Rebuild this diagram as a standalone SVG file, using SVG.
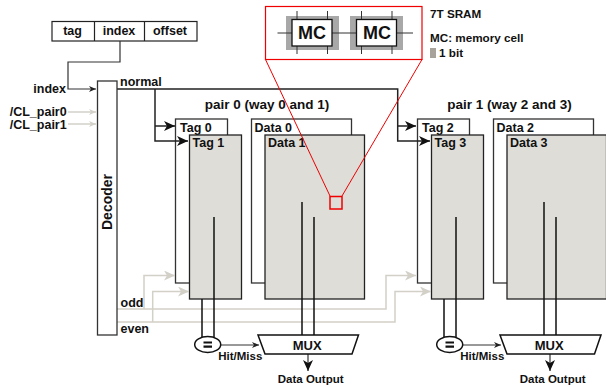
<svg xmlns="http://www.w3.org/2000/svg" width="606" height="387" viewBox="0 0 606 387">
<style>
text{font-family:"Liberation Sans",Arial,sans-serif;font-weight:700;fill:#111}
.t12{font-size:12.5px}.t13{font-size:13px}.t135{font-size:13.5px}.t14{font-size:14px}.t116{font-size:11.7px}.hm{font-size:11.500px}.do{font-size:11.500px}
.mid{text-anchor:middle}.end{text-anchor:end}
.wb{fill:#fff;stroke:#333;stroke-width:1.3}
.gb{fill:#deddd8;stroke:#222;stroke-width:1.3}
.k{fill:none;stroke:#222;stroke-width:1.5}
.k2{fill:none;stroke:#111;stroke-width:1.5}
.g{fill:none;stroke:#d3d0c8;stroke-width:1.5}
.thin{fill:none;stroke:#333;stroke-width:1}
.r{fill:none;stroke:#f00000;stroke-width:1}
</style>
<defs>
<marker id="ak" markerUnits="userSpaceOnUse" markerWidth="12" markerHeight="10" refX="11" refY="5" orient="auto"><path d="M0 0L11 5L0 10L3 5Z" fill="#111"/></marker>
<marker id="as" markerUnits="userSpaceOnUse" markerWidth="8" markerHeight="7" refX="7" refY="3.5" orient="auto"><path d="M0 0.5L7 3.5L0 6.5L2 3.5Z" fill="#222"/></marker>
<marker id="ag" markerUnits="userSpaceOnUse" markerWidth="12" markerHeight="10" refX="11" refY="5" orient="auto"><path d="M0 0L11 5L0 10L3 5Z" fill="#d3d0c8"/></marker>
<marker id="ags" markerUnits="userSpaceOnUse" markerWidth="8" markerHeight="7" refX="7" refY="3.5" orient="auto"><path d="M0 0.5L7 3.5L0 6.5L2 3.5Z" fill="#d3d0c8"/></marker>
</defs>

<g id="address">
<rect x="52" y="21.5" width="145" height="19.5" fill="#fff" stroke="#222" stroke-width="1.2"/>
<path d="M94.5 21.5V41M144.5 21.5V41" stroke="#222" stroke-width="1.2"/>
<text class="t12 mid" x="72.500" y="35">tag</text>
<text class="t12 mid" x="119" y="35">index</text>
<text class="t12 mid" x="170" y="35">offset</text>
</g>

<g id="tag0"><rect class="wb" x="175.5" y="119" width="52" height="164"/><text class="t12" x="180" y="131.500">Tag 0</text></g>
<g id="data0"><rect class="wb" x="251.5" y="119" width="100" height="164"/><text class="t12" x="254.500" y="131.500">Data 0</text></g>
<g id="tag2"><rect class="wb" x="417.5" y="119" width="52" height="164"/><text class="t12" x="422" y="131.500">Tag 2</text></g>
<g id="data2"><rect class="wb" x="493.5" y="119" width="100" height="164"/><text class="t12" x="496.500" y="131.500">Data 2</text></g>
<g id="tag1"><rect class="gb" x="189.5" y="135" width="52" height="164"/><text class="t12" x="192.500" y="146.500">Tag 1</text></g>
<g id="data1"><rect class="gb" x="265" y="135" width="99.5" height="164"/><text class="t12" x="268" y="146.500">Data 1</text></g>
<g id="tag3"><rect class="gb" x="431.5" y="135" width="52" height="164"/><text class="t12" x="434.500" y="146.500">Tag 3</text></g>
<g id="data3"><rect class="gb" x="507" y="135" width="99.5" height="164"/><text class="t12" x="510" y="146.500">Data 3</text></g>

<g id="connectors">
<path class="g" d="M117 309H386V275.5H416" marker-end="url(#ag)"/>
<path class="g" d="M144 309V275.5H175" marker-end="url(#ag)"/>
<path class="g" d="M117 322H395V291.5H431" marker-end="url(#ag)"/>
<path class="g" d="M152.700 322V291.500H189" marker-end="url(#ag)"/>
<path class="g" d="M68 112H96" marker-end="url(#ags)"/>
<path class="g" d="M68 124H96" marker-end="url(#ags)"/>
<path class="thin" style="stroke-width:1.2" d="M120 41V62H68V89H96" marker-end="url(#as)"/>
<path class="k" d="M117 89H397.700V141H430" marker-end="url(#ak)"/>
<path class="k" d="M397.700 126H416" marker-end="url(#ak)"/>
<path class="k" d="M155 89V141H188" marker-end="url(#ak)"/>
<path class="k" d="M155 126H175" marker-end="url(#ak)"/>
<path class="k2" d="M202 299V337M214 217V337M302 202V335M314 217V335M444 299V337M456 217V337M544 202V335M556 217V335"/>
<path class="thin" d="M221 345H259" marker-end="url(#as)"/>
<path class="thin" d="M463 345H501" marker-end="url(#as)"/>
<path class="thin" style="stroke-width:1.2" d="M308 354V371" marker-end="url(#ak)"/>
<path class="thin" style="stroke-width:1.2" d="M550 354V371" marker-end="url(#ak)"/>
</g>

<g id="decoder">
<rect class="wb" x="97.500" y="81" width="19.500" height="254"/>
<text class="t14" transform="translate(112,230) rotate(-90)">Decoder</text>
</g>
<g id="labels">
<text class="t12 end" x="66" y="93">index</text>
<text class="t12 end" x="66.700" y="115.700">/CL_pair0</text>
<text class="t12 end" x="66.700" y="129">/CL_pair1</text>
<text class="t12" x="120" y="86">normal</text>
<text class="t12" x="120.500" y="307">odd</text>
<text class="t12" x="120.500" y="333">even</text>
<text class="t135 mid" x="267" y="109">pair 0 (way 0 and 1)</text>
<text class="t135 mid" x="509.500" y="109">pair 1 (way 2 and 3)</text>
</g>

<g id="cmp0"><ellipse cx="207.700" cy="344.500" rx="13" ry="8" fill="#fff" stroke="#111" stroke-width="1.5"/><path d="M203.500 342.500H212M203.500 346.700H212" stroke="#111" stroke-width="2.200"/></g>
<g id="cmp1"><ellipse cx="449.700" cy="344.500" rx="13" ry="8" fill="#fff" stroke="#111" stroke-width="1.5"/><path d="M445.500 342.500H454M445.500 346.700H454" stroke="#111" stroke-width="2.200"/></g>
<g id="mux0"><path d="M258 335H358.500L352 354H265Z" fill="#fff" stroke="#111" stroke-width="1.5"/><text class="t13 mid" x="307.200" y="350">MUX</text></g>
<g id="mux1"><path d="M500 335H601L594.500 354H507Z" fill="#fff" stroke="#111" stroke-width="1.5"/><text class="t13 mid" x="549.200" y="350">MUX</text></g>
<text class="hm mid" x="240.300" y="360">Hit/Miss</text>
<text class="hm mid" x="482.300" y="360">Hit/Miss</text>
<text class="do mid" x="310.700" y="383">Data Output</text>
<text class="do mid" x="552.700" y="383">Data Output</text>

<g id="inset">
<rect x="265.500" y="6.500" width="156.500" height="53" fill="#fff" stroke="#f00000" stroke-width="1.2"/>
<rect x="286" y="16" width="53" height="34" fill="#a8a8a8"/>
<rect x="350" y="16" width="53" height="34" fill="#a8a8a8"/>
<path class="thin" d="M277.500 33H292M332 33H356.500M397 33H413M297 11V19M327.500 11V19M297 46V54M327.500 46V54M361.500 11V19M392 11V19M361.500 46V54M392 46V54"/>
<rect x="292" y="19.500" width="40" height="26.500" fill="#fff" stroke="#111" stroke-width="1.3"/>
<rect x="356.500" y="19.500" width="40" height="26.500" fill="#fff" stroke="#111" stroke-width="1.3"/>
<text class="mid" x="312" y="39" font-size="18">MC</text>
<text class="mid" x="377" y="39" font-size="18">MC</text>
</g>
<g id="legend">
<text class="t116" x="430" y="18">7T SRAM</text>
<text class="t116" x="430" y="42">MC: memory cell</text>
<rect x="430" y="48" width="6" height="10" fill="#a8a39a"/>
<text class="t116" x="439" y="57">1 bit</text>
</g>
<g id="zoomlines">
<path class="r" d="M265.500 59.500L330 196M422 59.500L342 196"/>
<rect x="330" y="196.500" width="12" height="12.500" fill="none" stroke="#f00000" stroke-width="1.5"/>
</g>
</svg>
